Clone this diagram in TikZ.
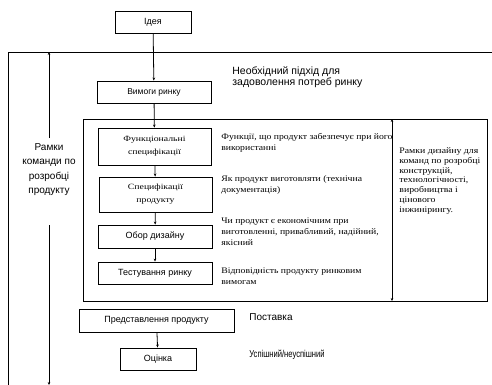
\documentclass[tikz,border=0pt]{standalone}
\usepackage{fontspec}
\setmainfont{Liberation Serif}
\newfontfamily\arialf{Liberation Sans}
\newfontfamily\narrowf[FakeStretch=0.76]{Liberation Sans}
\newfontfamily\boxf[FakeStretch=1.22]{Liberation Serif}
\newfontfamily\notef[FakeStretch=1.14]{Liberation Serif}
\newfontfamily\widef[FakeStretch=1.15]{Liberation Serif}
\usetikzlibrary{arrows.meta}
\begin{document}
\begin{tikzpicture}[x=1pt,y=-1pt,
  line width=0.8pt,
  tip/.style={-{Stealth[length=3pt,width=2.6pt]}},
  dtip/.style={{Stealth[length=3pt,width=2.6pt]}-{Stealth[length=3pt,width=2.6pt]}},
  box/.style={draw,line width=0.9pt,inner sep=0pt,align=center},
  sbox/.style={box,font=\arialf\fontsize{9}{10}\selectfont},
  tbox/.style={box,font=\boxf\fontsize{8}{13}\selectfont},
  note/.style={anchor=west,align=left,inner sep=0pt,font=\notef\fontsize{8.5}{11}\selectfont},
  snote/.style={anchor=west,align=left,inner sep=0pt,font=\arialf\fontsize{10}{11}\selectfont}]
\useasboundingbox (0,0) rectangle (492,385);
% outer team frame (open to the right and bottom)
\draw (492,52) -- (8,52) -- (8,385);
% design frame
\node[draw,line width=0.9pt,minimum width=404pt,minimum height=182pt,inner sep=0pt] (frame) at (285,210) {};
% process boxes
\node[sbox,minimum width=76pt,minimum height=22pt] (idea) at (153,22) {Ідея};
\node[sbox,minimum width=114pt,minimum height=22pt,font=\arialf\fontsize{8.5}{10}\selectfont] (market) at (154,92) {Вимоги ринку};
\node[tbox,minimum width=113pt,minimum height=37pt] (func) at (154.5,146.5) {Функціональні\\специфікації};
\node[tbox,minimum width=113pt,minimum height=35pt] (spec) at (155.5,194.5) {Специфікації\\продукту};
\node[sbox,minimum width=114pt,minimum height=23pt] (review) at (155,236.5) {Обор дизайну};
\node[sbox,minimum width=114pt,minimum height=22pt] (test) at (155,273) {Тестування ринку};
\node[sbox,minimum width=155pt,minimum height=23pt] (launch) at (156.5,320.5) {Представлення продукту};
\node[sbox,minimum width=76pt,minimum height=22pt] (eval) at (158,359) {Оцінка};
% flow arrows
\draw[tip] (idea) -- (market);
\draw[tip] (market) -- (func);
\draw[tip] (func) -- (spec);
\draw[tip] (spec) -- (review);
\draw[tip] (review) -- (test);
\draw[tip] (launch) -- (eval);
% team scope double arrow on the left, broken by its label
\node[align=center,inner sep=1pt,font=\arialf\fontsize{10}{14.5}\selectfont] (team) at (49,169.5) {Рамки\\команди по\\розробці\\продукту};
\coordinate (teamtop) at (49,52);
\coordinate (teambot) at (49,385);
\coordinate (teamA) at (49,138);
\coordinate (teamB) at (49,225);
\draw[tip] (teamA) -- (teamtop);
\draw[tip] (teamB) -- (teambot);
% design scope double arrow inside the frame
\coordinate (dtop) at (392,119);
\coordinate (dbot) at (392,301);
\draw[dtip] (dtop) -- (dbot);
% annotations
\node[snote,font=\arialf\fontsize{10.5}{11}\selectfont] (need) at (232,77.5) {Необхідний підхід для\\задоволення потреб ринку};
\node[note] (n1) at (221,142.5) {Функції, що продукт забезпечує при його\\використанні};
\node[note] (n2) at (221,184.5) {Як продукт виготовляти (технічна\\документація)};
\node[note] (n3) at (221,232) {Чи продукт є економічним при\\виготовленні, привабливий, надійний,\\якісний};
\node[note] (n4) at (221,276.5) {Відповідність продукту ринковим\\вимогам};
\node[note,font=\widef\fontsize{8.5}{9.8}\selectfont] (design) at (399,181) {Рамки  дизайну для\\команд  по розробці\\конструкцій,\\технологічності,\\виробництва і\\цінового\\інжинірингу.};
\node[snote] (deliv) at (249,317) {Поставка};
\node[snote,font=\narrowf\fontsize{10}{11}\selectfont] (result) at (249,355) {Успішний/неуспішний};
\end{tikzpicture}
\end{document}
